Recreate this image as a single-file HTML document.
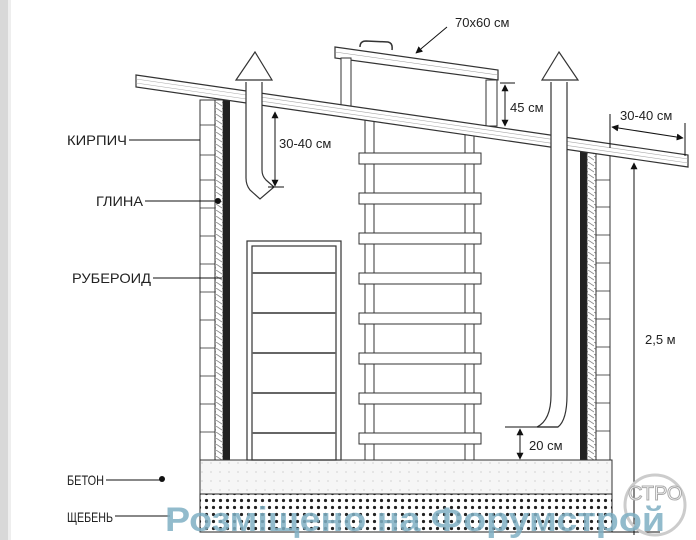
<!DOCTYPE html>
<html><head><meta charset="utf-8"><style>
body{margin:0;background:#fff;width:696px;height:540px;overflow:hidden}
svg{display:block}
text{font-family:"Liberation Sans",sans-serif;fill:#222}
</style></head><body>
<svg width="696" height="540" viewBox="0 0 696 540" xmlns="http://www.w3.org/2000/svg">
<defs>
<pattern id="hatch" width="6" height="6" patternUnits="userSpaceOnUse"><path d="M0 0 L6 4" stroke="#888" stroke-width="0.8"/></pattern>
<pattern id="dots" width="7" height="7" patternUnits="userSpaceOnUse"><circle cx="3.5" cy="3.5" r="1.6" fill="#222"/></pattern>
<pattern id="fdots" width="9" height="9" patternUnits="userSpaceOnUse"><circle cx="4" cy="4" r="0.5" fill="#999"/></pattern>
<marker id="ar" viewBox="0 0 10 10" refX="9" refY="5" markerWidth="7" markerHeight="7" orient="auto-start-reverse"><path d="M0 0 L10 5 L0 10z" fill="#111"/></marker>
</defs>
<rect x="0" y="0" width="8" height="540" fill="#d8d8d8"/>
<rect x="8" y="0" width="3" height="540" fill="#eee"/>
<!-- left wall -->
<rect x="200" y="100" width="15" height="360" fill="#fff" stroke="#333"/>
<g stroke="#333" stroke-width="0.8">
<line x1="200" y1="125" x2="215" y2="125"/><line x1="200" y1="155" x2="215" y2="155"/><line x1="200" y1="180" x2="215" y2="180"/><line x1="200" y1="208" x2="215" y2="208"/><line x1="200" y1="236" x2="215" y2="236"/><line x1="200" y1="264" x2="215" y2="264"/><line x1="200" y1="292" x2="215" y2="292"/><line x1="200" y1="320" x2="215" y2="320"/><line x1="200" y1="348" x2="215" y2="348"/><line x1="200" y1="376" x2="215" y2="376"/><line x1="200" y1="404" x2="215" y2="404"/><line x1="200" y1="432" x2="215" y2="432"/>
</g>
<rect x="215" y="100" width="8" height="360" fill="url(#hatch)" stroke="#333" stroke-width="0.8"/>
<rect x="223" y="100" width="7" height="360" fill="#222"/>
<!-- right wall -->
<rect x="580" y="148" width="7" height="312" fill="#222"/>
<rect x="587" y="148" width="9" height="312" fill="url(#hatch)" stroke="#333" stroke-width="0.8"/>
<rect x="596" y="148" width="14" height="312" fill="#fff" stroke="#333"/>
<g stroke="#333" stroke-width="0.8">
<line x1="596" y1="180" x2="610" y2="180"/><line x1="596" y1="207" x2="610" y2="207"/><line x1="596" y1="235" x2="610" y2="235"/><line x1="596" y1="263" x2="610" y2="263"/><line x1="596" y1="291" x2="610" y2="291"/><line x1="596" y1="319" x2="610" y2="319"/><line x1="596" y1="347" x2="610" y2="347"/><line x1="596" y1="375" x2="610" y2="375"/><line x1="596" y1="403" x2="610" y2="403"/><line x1="596" y1="431" x2="610" y2="431"/>
</g>
<!-- slab -->
<rect x="200" y="460" width="412" height="34" fill="#f6f6f6" stroke="#333"/>
<rect x="200" y="460" width="412" height="34" fill="url(#fdots)"/>
<rect x="200" y="494" width="412" height="38" fill="#fff" stroke="#222"/>
<rect x="200" y="494" width="412" height="38" fill="url(#dots)"/>
<!-- door -->
<rect x="247" y="241" width="94" height="219" fill="#fff" stroke="#333" stroke-width="1.2"/>
<rect x="252" y="246" width="84" height="214" fill="none" stroke="#333" stroke-width="1.2"/>
<g stroke="#666" stroke-width="2">
<line x1="252" y1="273" x2="336" y2="273"/><line x1="252" y1="313" x2="336" y2="313"/><line x1="252" y1="353" x2="336" y2="353"/><line x1="252" y1="393" x2="336" y2="393"/><line x1="252" y1="433" x2="336" y2="433"/>
</g>
<!-- ladder -->
<g fill="#fff" stroke="#333" stroke-width="1">
<rect x="365" y="115" width="9" height="345"/><rect x="465" y="130" width="9" height="330"/>
<rect x="359" y="153" width="122" height="11"/><rect x="359" y="193" width="122" height="11"/><rect x="359" y="233" width="122" height="11"/><rect x="359" y="273" width="122" height="11"/><rect x="359" y="313" width="122" height="11"/><rect x="359" y="353" width="122" height="11"/><rect x="359" y="393" width="122" height="11"/><rect x="359" y="433" width="122" height="11"/>
</g>
<!-- hatch lid -->
<path d="M360 47 Q360 41 366 41 L388 42 Q393 43 392 50" fill="none" stroke="#333" stroke-width="1.5"/>
<polygon points="335,47 498,70 498,80 335,58" fill="#fff" stroke="#333" stroke-width="1.2"/>
<line x1="335" y1="52" x2="498" y2="75" stroke="#999" stroke-width="0.6"/>
<rect x="341" y="58" width="10" height="50" fill="#fff" stroke="#333"/>
<rect x="486" y="80" width="11" height="46" fill="#fff" stroke="#333"/>
<!-- roof -->
<polygon points="136,75 688,155 688,167 136,87" fill="#fff" stroke="#333" stroke-width="1.2"/>
<line x1="136" y1="79" x2="688" y2="159" stroke="#aaa" stroke-width="0.6"/>
<line x1="136" y1="83" x2="688" y2="163" stroke="#aaa" stroke-width="0.6"/>
<!-- left vent -->
<path d="M246 82 L246 178 Q246 185 250 190 L260 199 L274 187 L266 180 Q262 176 262 170 L262 82" fill="#fff" stroke="#333" stroke-width="1.2"/>
<polygon points="255,52 236,80 272,80" fill="#fff" stroke="#333" stroke-width="1.2"/>
<!-- right vent -->
<path d="M551 82 L551 395 Q551 420 537 427 L558 427 Q567 420 567 395 L567 82" fill="#fff" stroke="#333" stroke-width="1.2"/>
<polygon points="559,52 542,80 578,80" fill="#fff" stroke="#333" stroke-width="1.2"/>
<!-- dimensions -->
<g stroke="#111" stroke-width="1" fill="none">
<line x1="275" y1="112" x2="275" y2="186" marker-start="url(#ar)" marker-end="url(#ar)"/>
<line x1="268" y1="187" x2="284" y2="187"/>
<line x1="500" y1="83" x2="515" y2="83"/>
<line x1="505" y1="85" x2="505" y2="126" marker-start="url(#ar)" marker-end="url(#ar)"/>
<line x1="447" y1="27" x2="416" y2="53" marker-end="url(#ar)"/>
<line x1="610" y1="114" x2="610" y2="148"/>
<line x1="685" y1="123" x2="685" y2="156"/>
<line x1="612" y1="127" x2="683" y2="138" marker-start="url(#ar)" marker-end="url(#ar)"/>
<line x1="634" y1="163" x2="634" y2="535" marker-start="url(#ar)"/>
<line x1="505" y1="427" x2="558" y2="427"/>
<line x1="520" y1="429" x2="520" y2="459" marker-start="url(#ar)" marker-end="url(#ar)"/>
<line x1="129" y1="140" x2="200" y2="140"/>
<line x1="145" y1="201" x2="218" y2="201"/>
<line x1="153" y1="278" x2="222" y2="278"/>
<line x1="106" y1="480" x2="161" y2="480"/>
<line x1="115" y1="516" x2="170" y2="516"/>
<line x1="612" y1="532" x2="660" y2="532"/>
</g>
<circle cx="218" cy="201" r="3" fill="#111"/>
<circle cx="162" cy="479" r="3" fill="#111"/>
<g font-size="14">
<text x="67" y="145" textLength="60" lengthAdjust="spacingAndGlyphs">КИРПИЧ</text>
<text x="96" y="206" textLength="47" lengthAdjust="spacingAndGlyphs">ГЛИНА</text>
<text x="72" y="283" textLength="79" lengthAdjust="spacingAndGlyphs">РУБЕРОИД</text>
<text x="67" y="485" textLength="37" lengthAdjust="spacingAndGlyphs">БЕТОН</text>
<text x="67" y="522" textLength="46" lengthAdjust="spacingAndGlyphs">ЩЕБЕНЬ</text>
</g>
<g font-size="13">
<text x="279" y="148">30-40 см</text>
<text x="455" y="27">70x60 см</text>
<text x="510" y="112">45 см</text>
<text x="620" y="120">30-40 см</text>
<text x="645" y="344">2,5 м</text>
<text x="529" y="450">20 см</text>
</g>
<circle cx="655" cy="505" r="30" fill="none" stroke="#ccc" stroke-width="3"/>
<text x="628" y="500" font-size="20" style="fill:#fff;stroke:#aaa;stroke-width:1" font-family="Liberation Serif">СТРО</text>
<text x="165" y="531" font-size="34" font-weight="bold" textLength="500" lengthAdjust="spacingAndGlyphs" style="fill:#7fb0c4;opacity:0.85">Розміщено на Форумстрой</text>
</svg>
</body></html>
